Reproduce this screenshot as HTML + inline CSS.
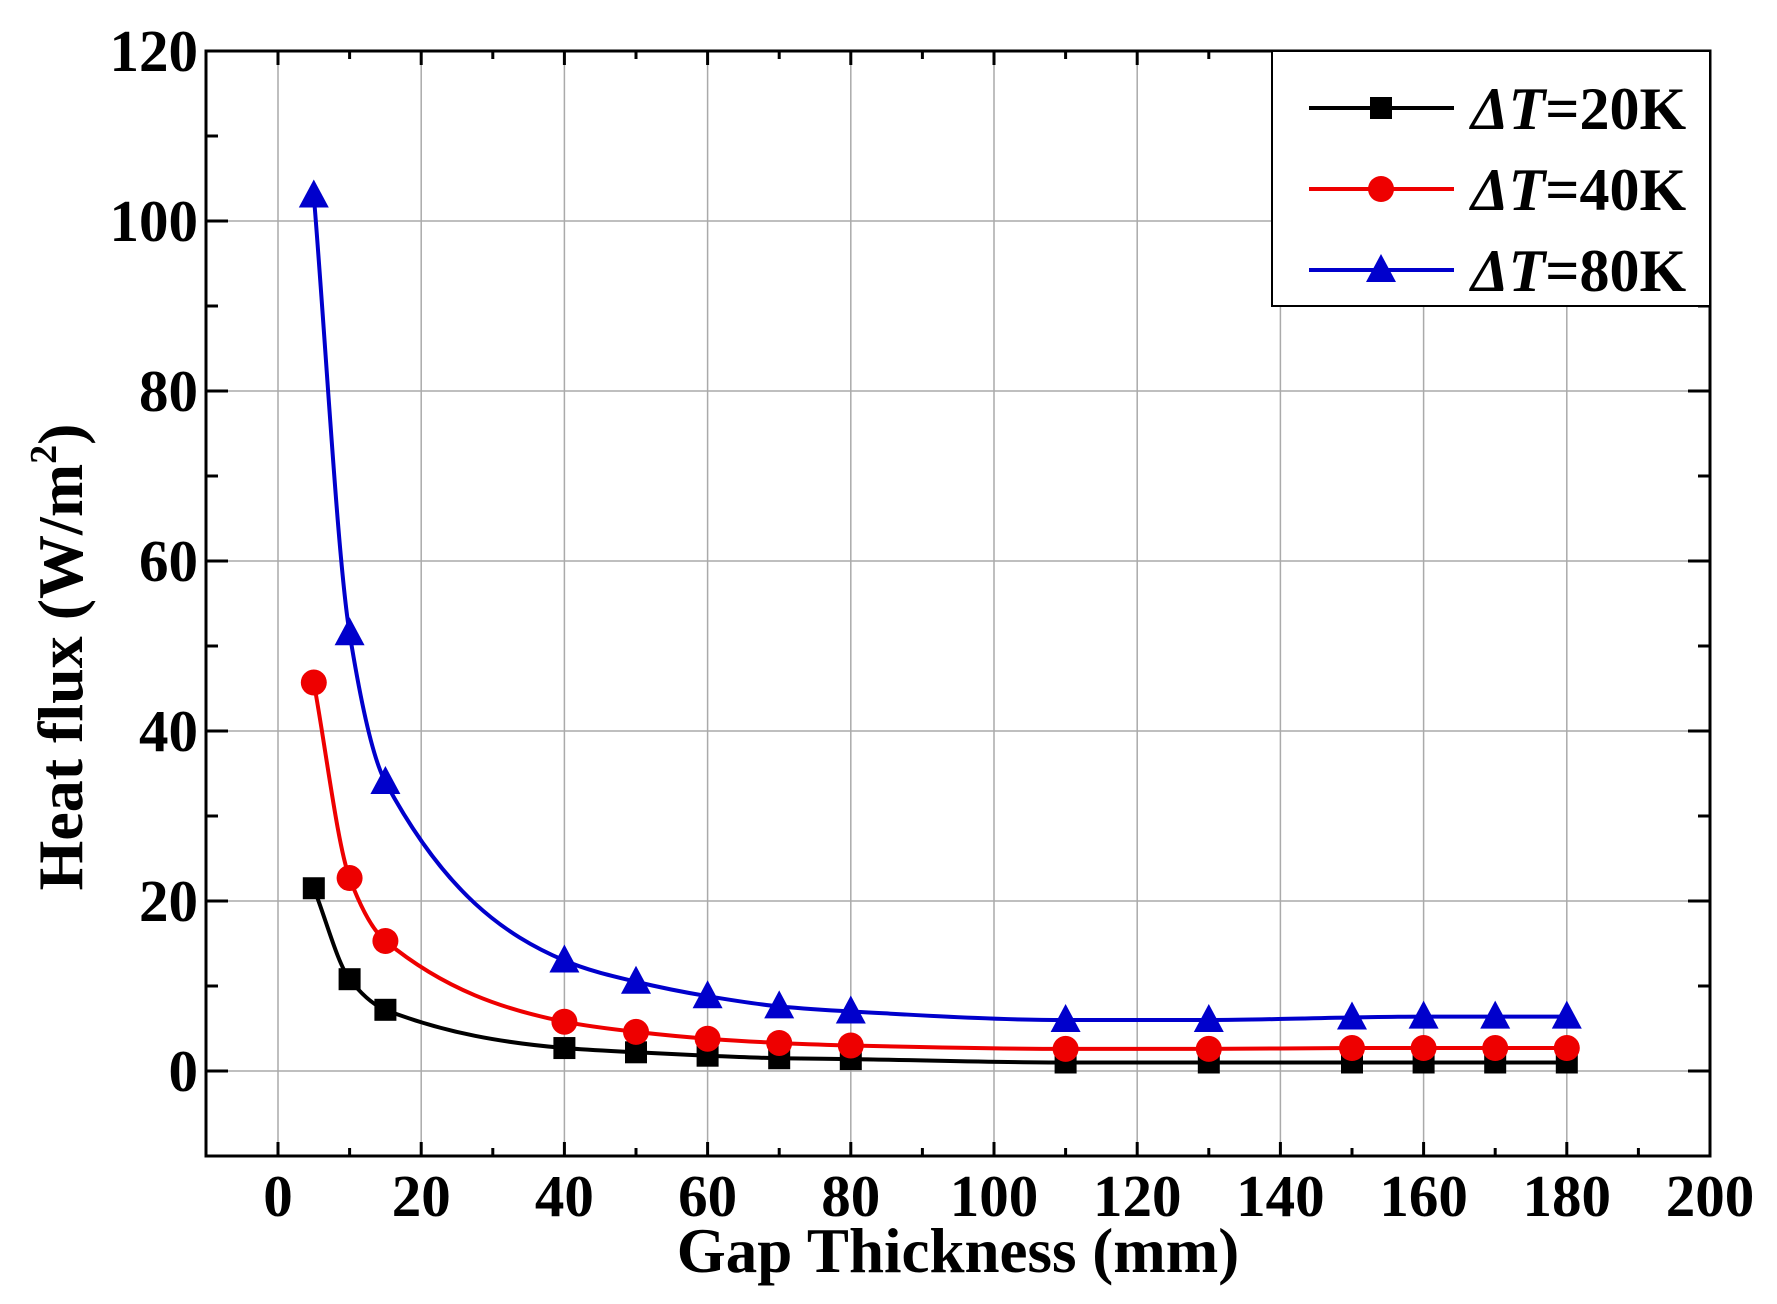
<!DOCTYPE html><html><head><style>body{margin:0;background:#fff}svg{display:block}</style></head><body>
<svg id="s" width="1777" height="1304" xmlns="http://www.w3.org/2000/svg" font-family="Liberation Serif, serif" font-weight="bold"></svg>
<script>
const s=document.getElementById('s');let h='';
const X=v=>278+v*7.16, Y=v=>1071-v*8.5;
const L=206,R=1710,T=51,B=1156;
for(let v=0;v<=180;v+=20)h+=`<line x1="${X(v)}" y1="${T}" x2="${X(v)}" y2="${B}" stroke="#aaa" stroke-width="1.5"/>`;
for(let v=0;v<=100;v+=20)h+=`<line x1="${L}" y1="${Y(v)}" x2="${R}" y2="${Y(v)}" stroke="#aaa" stroke-width="1.5"/>`;
for(let v=0;v<=200;v+=10){const x=X(v),l=v%20==0?14:8;h+=`<line x1="${x}" y1="${B}" x2="${x}" y2="${B-l}" stroke="#000" stroke-width="3"/><line x1="${x}" y1="${T}" x2="${x}" y2="${T+l}" stroke="#000" stroke-width="3"/>`;
 if(v%20==0)h+=`<text x="${x}" y="1216" font-size="59" text-anchor="middle">${v}</text>`;}
for(let v=-10;v<=120;v+=10){const y=Y(v),l=v%20==0?22:12;h+=`<line x1="${L}" y1="${y}" x2="${L+l}" y2="${y}" stroke="#000" stroke-width="3"/><line x1="${R}" y1="${y}" x2="${R-l}" y2="${y}" stroke="#000" stroke-width="3"/>`;
 if(v%20==0&&v>=0)h+=`<text x="198" y="${y+20}" font-size="59" text-anchor="end">${v}</text>`;}
h+=`<rect x="${L}" y="${T}" width="${R-L}" height="${B-T}" fill="none" stroke="#000" stroke-width="3"/>`;
h+=`<text x="958" y="1272" font-size="63" text-anchor="middle">Gap Thickness (mm)</text>`;
h+=`<text transform="translate(82,657) rotate(-90)" font-size="64" text-anchor="middle">Heat flux (W/m<tspan dy="-26" font-size="38">2</tspan><tspan dy="26">)</tspan></text>`;
const xs=[5,10,15,40,50,60,70,80,110,130,150,160,170,180];
const D=[["#000","sq",[21.5,10.8,7.2,2.7,2.2,1.8,1.5,1.4,1.0,1.0,1.0,1.0,1.0,1.0]],
["#e00","ci",[45.7,22.7,15.3,5.8,4.6,3.8,3.3,3.0,2.6,2.6,2.7,2.7,2.7,2.7]],
["#00c","tr",[103,51.5,34,13,10.5,8.8,7.6,7,6,6,6.3,6.4,6.4,6.4]]];
function mk(c,t,x,y){if(t=="sq")return `<rect x="${x-11}" y="${y-11}" width="22" height="22" fill="${c}"/>`;
 if(t=="ci")return `<circle cx="${x}" cy="${y}" r="13" fill="${c}"/>`;
 return `<polygon points="${x},${y-16} ${x-15},${y+12} ${x+15},${y+12}" fill="${c}"/>`;}
function mono(P){const n=P.length,dx=[],m=[],t=[];
 for(let i=0;i<n-1;i++){dx[i]=P[i+1][0]-P[i][0];m[i]=(P[i+1][1]-P[i][1])/dx[i];}
 t[0]=m[0];t[n-1]=m[n-2];
 for(let i=1;i<n-1;i++){if(m[i-1]*m[i]<=0)t[i]=0;else{const w1=2*dx[i]+dx[i-1],w2=dx[i]+2*dx[i-1];t[i]=(w1+w2)/(w1/m[i-1]+w2/m[i]);}}
 let d=`M${P[0]}`;for(let i=0;i<n-1;i++){const h3=dx[i]/3;d+=`C${P[i][0]+h3},${P[i][1]+t[i]*h3} ${P[i+1][0]-h3},${P[i+1][1]-t[i+1]*h3} ${P[i+1]}`;}return d;}
D.forEach(([c,t,ys])=>{const P=xs.map((x,i)=>[X(x),Y(ys[i])]);
 h+=`<path d="${mono(P)}" fill="none" stroke="${c}" stroke-width="4"/>`;P.forEach(p=>h+=mk(c,t,p[0],p[1]));});
h+=`<rect x="1272" y="${T}" width="${R-1272}" height="255" fill="#fff" stroke="#000" stroke-width="2"/>`;
[["20K",108],["40K",189],["80K",270]].forEach(([l,y],i)=>{const [c,t]=D[i];
 h+=`<line x1="1309" y1="${y}" x2="1454" y2="${y}" stroke="${c}" stroke-width="4"/>`+mk(c,t,1381,y);
 h+=`<text x="1471" y="${y+21}" font-size="60"><tspan font-style="italic">ΔT</tspan>=${l}</text>`;});
s.innerHTML=h;
</script></body></html>
